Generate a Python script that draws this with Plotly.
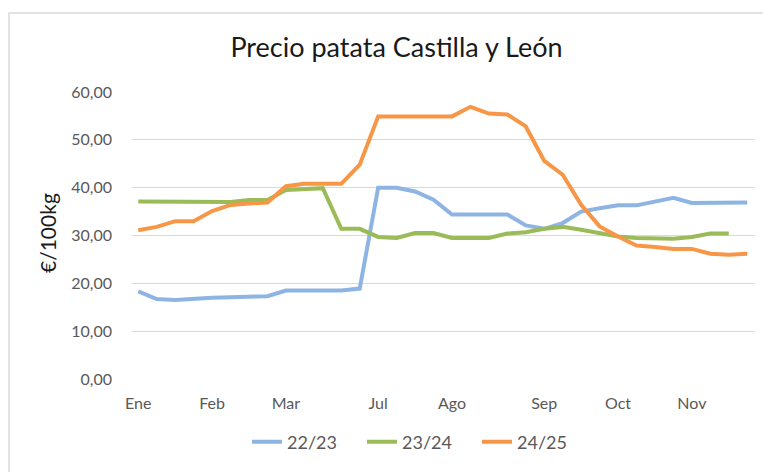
import plotly.graph_objects as go

weeks = list(range(34))
month_ticks = [0, 4, 8, 13, 17, 22, 26, 30]
month_labels = ["Ene", "Feb", "Mar", "Jul", "Ago", "Sep", "Oct", "Nov"]

s_22_23 = [18.3, 16.7, 16.5, 16.8, 17.0, 17.1, 17.3, 17.3, 18.5, 18.5, 18.5, 18.5, 18.9,
           40.0, 40.0, 39.2, 37.5, 34.4, 34.4, 34.4, 34.4, 32.1, 31.4, 32.6, 35.0, 35.7,
           36.3, 36.3, 37.2, 37.9, 36.8, 36.9, 36.9, 36.9]
s_23_24 = [37.1, 37.1, 37.1, 36.9, 36.9, 37.0, 37.4, 37.4, 39.5, 39.6, 39.9, 31.4, 31.4,
           29.7, 29.5, 30.5, 30.5, 29.5, 29.5, 29.5, 30.4, 30.7, 31.4, 31.8, 31.2, 30.4,
           29.8, 29.5, 29.3, 29.3, 29.7, 30.4, 30.4, None]
s_24_25 = [31.1, 31.8, 33.0, 33.0, 35.1, 36.4, 36.7, 36.9, 40.3, 40.8, 40.8, 40.8, 44.8,
           54.9, 54.9, 54.9, 54.9, 54.9, 56.9, 55.5, 55.3, 52.8, 45.6, 42.7, 36.4, 31.9,
           29.8, 27.9, 27.6, 27.2, 27.2, 26.2, 26.0, 26.2]

series_names = ["22/23", "23/24", "24/25"]
series_values = [s_22_23, s_23_24, s_24_25]
colors = ["#8EB4E3", "#9BBB59", "#F79646"]

FONT = "Lato"
# page is offset by the 8px default body margin
W, H = 763, 464

fig = go.Figure()
for name, vals, col in zip(series_names, series_values, colors):
    fig.add_trace(go.Scatter(
        x=weeks, y=vals, name=name, mode="lines",
        line=dict(color=col, width=4),
        connectgaps=False,
    ))

fig.update_layout(
    width=W, height=H,
    margin=dict(l=124, r=16, t=84, b=93),
    paper_bgcolor="white", plot_bgcolor="white",
    separators=",.",
    font=dict(family=FONT, size=16, color="#595959"),
    title=dict(text="Precio patata Castilla y León", x=388.5 / W, xanchor="center",
               y=1 - 40 / H, yanchor="middle", yref="container", xref="container",
               font=dict(family=FONT, size=27, color="#1a1a1a")),
    xaxis=dict(range=[-0.34, 33.42], tickvals=month_ticks, ticktext=month_labels,
               showgrid=False, zeroline=False, showline=False, ticks="",
               ticklabelstandoff=13, tickfont=dict(size=16, color="#595959")),
    yaxis=dict(range=[0, 60], dtick=10, tickformat=".2f", showgrid=True,
               gridcolor="#D9D9D9", gridwidth=1.3, zeroline=False, showline=False,
               ticks="", ticklabelstandoff=19, tickfont=dict(size=16, color="#595959")),
    annotations=[dict(text="€/100kg", textangle=-90, xref="paper", yref="paper",
                      x=(47 - 132) / 623, y=(379 - 233) / 287, xanchor="center",
                      yanchor="middle", showarrow=False,
                      font=dict(family=FONT, size=21, color="#1a1a1a"))],
    legend=dict(orientation="h", x=(419.5 - 132) / 623, xanchor="center",
                y=(379 - 442) / 287, yanchor="middle",
                entrywidth=70, entrywidthmode="pixels",
                font=dict(size=18, color="#595959"), bgcolor="rgba(0,0,0,0)"),
    showlegend=True,
    shapes=[dict(type="rect", xref="paper", yref="paper",
                 x0=(9 - 132) / 623, x1=1.3, y0=-0.6, y1=(379 - 13) / 287,
                 line=dict(color="#D9D9D9", width=1.5), fillcolor="rgba(0,0,0,0)",
                 layer="below")],
)

fig.write_html("out.html")
